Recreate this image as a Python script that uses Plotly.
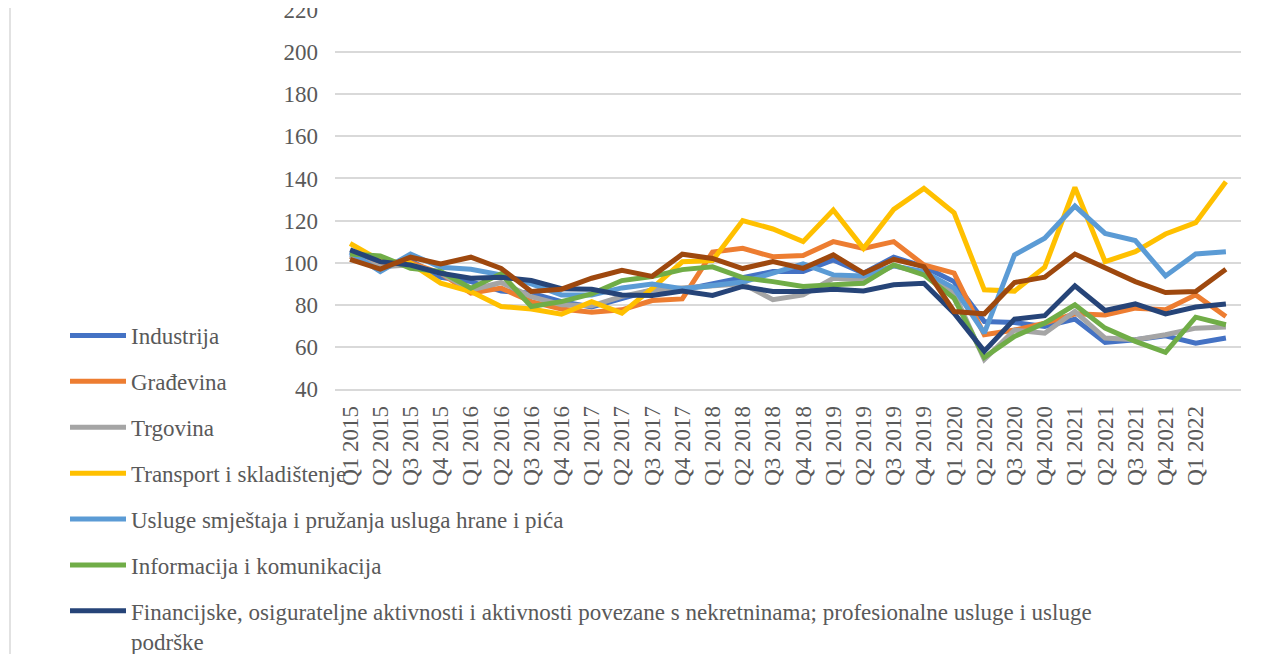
import plotly.graph_objects as go

quarters = [f"Q{q} {y}" for y in range(2015, 2023) for q in range(1, 5)][:30]

industrija = [104, 99, 101, 93, 91, 86.5, 85.5, 81.5, 79, 83, 87, 87.1, 90, 92.4, 95.8, 95.8,
              101.3, 95, 102.6, 98.1, 91, 72, 71.6, 69.7, 73.2, 62.1, 63.4, 65.3, 61.8, 64.2]
gradevina = [103, 98, 100, 95, 85.5, 87.9, 81.5, 78, 76.5, 77.6, 82, 82.8, 105, 106.8, 102.8, 103.4,
             110, 106.8, 110, 98.9, 95, 65.8, 68, 71.3, 75.7, 75.2, 78.4, 77.6, 84.7, 74.4]
trgovina = [103, 98, 99, 95, 87, 90.6, 83.9, 80, 79.5, 84, 87, 88.1, 88.7, 90, 82.4, 84.7,
            92.6, 91.8, 98.5, 95, 85.5, 54, 68, 66.5, 76.8, 64.2, 63.4, 65.8, 68.9, 69.4]
transport = [109.1, 101, 99.7, 90.3, 86.3, 79.2, 78, 75.5, 81.5, 76, 87.8, 100.4, 101, 120, 116, 110,
             125, 106.8, 125.3, 135.3, 123.7, 87.1, 86.5, 97.8, 135.7, 100.5, 105.2, 113.6, 119, 138.4]
usluge = [105, 95.8, 104.1, 97.8, 96.9, 94.2, 89.9, 84.7, 84.7, 88, 89.8, 87.6, 89.2, 90.8, 95, 99.4,
          94.2, 93.7, 98.5, 95.8, 87.9, 66.5, 103.7, 111.6, 126.9, 113.9, 110.5, 93.7, 104.1, 105.2]
informacija = [104.1, 103.2, 97.3, 95.8, 87.9, 94.7, 79.2, 81.5, 85.2, 91.5, 93.4, 96.7, 98, 92.9, 91, 88.7,
               89.5, 90.2, 98.9, 94.2, 83.1, 55, 65, 71.3, 80, 68.9, 62.6, 57.4, 74.1, 70.5]
financijske = [106.1, 100.5, 98.9, 95, 92.6, 93.1, 91.5, 87.6, 87.4, 84.7, 84.4, 86.5, 84.4, 88.7, 86.3, 86.3,
               87.4, 86.6, 89.5, 90.2, 76, 58, 73.2, 74.8, 89, 77.3, 80.4, 75.7, 78.9, 80.4]
ostalo = [101.6, 96.9, 102.6, 99.4, 102.6, 97.3, 86.3, 87.4, 92.6, 96.4, 93.5, 104, 102, 97.2, 100.5, 97.3,
          103.7, 95, 101.6, 98.1, 76.8, 75.7, 90.6, 93.1, 104.1, 97.3, 91, 85.8, 86.3, 96.9]

y_ticks = [40, 60, 80, 100, 120, 140, 160, 180, 200, 220]

series = [
    ("Industrija", industrija, "#4472C4", True),
    ("Građevina", gradevina, "#ED7D31", True),
    ("Trgovina", trgovina, "#A5A5A5", True),
    ("Transport i skladištenje", transport, "#FFC000", True),
    ("Usluge smještaja i pružanja usluga hrane i pića", usluge, "#5B9BD5", True),
    ("Informacija i komunikacija", informacija, "#70AD47", True),
    ("Financijske, osigurateljne aktivnosti i aktivnosti povezane s nekretninama; profesionalne usluge i usluge<br>podrške",
     financijske, "#264478", True),
    ("Ostale djelatnosti", ostalo, "#9E480E", False),
]

fig = go.Figure()
for i, (name, vals, col, show) in enumerate(series):
    fig.add_trace(go.Scatter(
        x=quarters, y=vals, name=name, mode="lines",
        line=dict(color=col, width=5),
        legendgroup=f"g{i}", showlegend=show,
    ))

font_family = "Liberation Serif, Times New Roman, serif"
# page body has an 8px margin, so the figure is sized/offset to compensate
W, H = 1270, 646
L, R, T, B = 327, 37, 2, 265
ph = H - T - B
pw = W - L - R

fig.update_layout(
    width=W, height=H,
    margin=dict(l=L, r=R, t=T, b=B, pad=0, autoexpand=False),
    paper_bgcolor="white", plot_bgcolor="white",
    font=dict(family=font_family, size=23, color="#595959"),
    showlegend=True,
    legend=dict(
        x=(57 - L) / pw, xanchor="left",
        y=(H - B - 306) / ph, yanchor="top",
        bgcolor="rgba(0,0,0,0)",
        font=dict(family=font_family, size=23, color="#595959"),
        tracegroupgap=13, itemwidth=56, valign="top",
        traceorder="grouped",
    ),
    xaxis=dict(
        type="category", categoryorder="array", categoryarray=quarters,
        range=[-0.5, len(quarters) - 0.5],
        tickmode="array", tickvals=quarters[:-1], ticktext=quarters[:-1],
        tickangle=-90, showgrid=False, automargin=False,
        showline=True, linecolor="#D9D9D9", linewidth=1.5,
        ticks="", tickfont=dict(family=font_family, size=23, color="#595959"),
        ticklabelstandoff=6,
    ),
    yaxis=dict(
        range=[40, 220], tickmode="array", tickvals=y_ticks,
        showgrid=True, gridcolor="#D9D9D9", gridwidth=1.5,
        zeroline=False, showline=False, ticks="", automargin=False,
        ticklabeloverflow="allow",
        tickfont=dict(family=font_family, size=23, color="#595959"),
        ticklabelstandoff=16,
    ),
    shapes=[dict(
        type="line", xref="paper", yref="paper",
        x0=(2 - L) / pw, x1=(2 - L) / pw,
        y0=-(B) / ph, y1=(H - B) / ph,
        line=dict(color="#D9D9D9", width=1.5),
    )],
)

fig.write_html("out.html")
